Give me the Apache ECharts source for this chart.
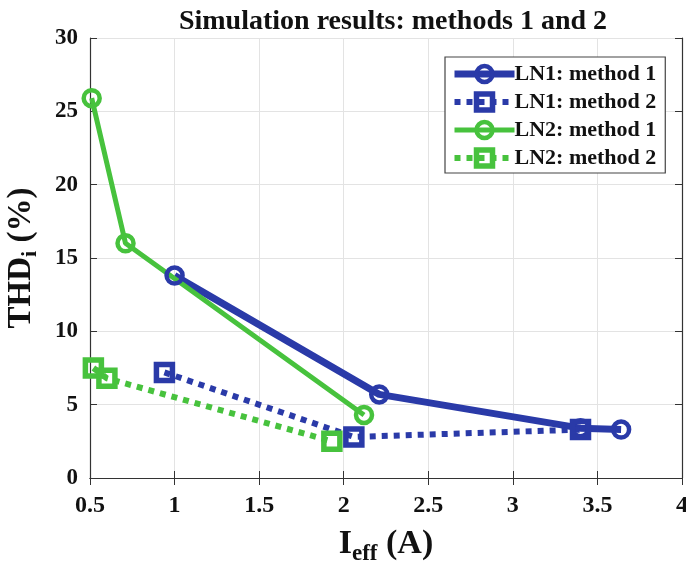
<!DOCTYPE html>
<html>
<head>
<meta charset="utf-8">
<script src="https://cdn.jsdelivr.net/npm/echarts@6/dist/echarts.min.js"></script>
<style>
  html, body { margin: 0; padding: 0; background: #fff; }
  #chart { width: 686px; height: 566px; }
</style>
</head>
<body>
<div id="chart"></div>
<script>
// Effective current (A) and current THD (%) for each line / method
const ln1m1X = [1.00, 2.21, 3.40, 3.64];
const ln1m1Y = [13.8, 5.7, 3.4, 3.3];
const ln1m2X = [0.94, 2.06, 3.40];
const ln1m2Y = [7.2, 2.8, 3.3];
const ln2m1X = [0.51, 0.71, 2.12];
const ln2m1Y = [25.9, 16.0, 4.3];
const ln2m2X = [0.52, 0.60, 1.93];
const ln2m2Y = [7.5, 6.8, 2.5];

const seriesNames = ['LN1: method 1', 'LN1: method 2', 'LN2: method 1', 'LN2: method 2'];
const xTicks = [0.5, 1, 1.5, 2, 2.5, 3, 3.5, 4];
const yTicks = [0, 5, 10, 15, 20, 25, 30];

const BLUE = '#2a3aa8';
const GREEN = '#47c23d';
const FONT = '"Liberation Serif", "DejaVu Serif", serif';

const pairs = (xs, ys) => xs.map((x, i) => [x, ys[i]]);

function makeSeries(name, data, color, dotted, symbol) {
  const solidWidth = color === BLUE ? 7 : 5;
  return {
    name: name,
    type: 'line',
    data: data,
    symbol: symbol,
    symbolSize: 16,
    showAllSymbol: true,
    lineStyle: {
      color: color,
      width: dotted ? 6 : solidWidth,
      type: dotted ? [6, 6] : 'solid',
      cap: 'butt'
    },
    itemStyle: { color: 'rgba(255,255,255,0)', borderColor: color, borderWidth: dotted ? 5.5 : 4.5 },
    emphasis: { disabled: true },
    animation: false
  };
}

const axisLineStyle = { color: '#333', width: 1.2 };
const xAxisBase = {
  type: 'value', min: 0.5, max: 4, interval: 0.5,
  splitLine: { show: true, lineStyle: { color: '#e3e3e3', width: 1 } },
  axisLine: { show: true, lineStyle: axisLineStyle },
  axisTick: { show: true, inside: true, length: 7, lineStyle: { color: '#333' } }
};
const yAxisBase = {
  type: 'value', min: 0, max: 30, interval: 5,
  splitLine: { show: true, lineStyle: { color: '#e3e3e3', width: 1 } },
  axisLine: { show: true, lineStyle: axisLineStyle },
  axisTick: { show: true, inside: true, length: 7, lineStyle: { color: '#333' } }
};

const chart = echarts.init(document.getElementById('chart'), null, { renderer: 'canvas' });
chart.setOption({
  backgroundColor: '#fff',
  animation: false,
  title: {
    text: 'Simulation results: methods 1 and 2',
    left: 388, top: 3, textAlign: 'center',
    textStyle: { fontFamily: FONT, fontWeight: 'bold', fontSize: 28, color: '#111' }
  },
  grid: { left: 90, right: 4, top: 38, bottom: 88, outerBoundsMode: 'none', containLabel: false },
  legend: {
    left: 445, top: 57,
    orient: 'vertical',
    itemWidth: 60, itemHeight: 20, itemGap: 6,
    padding: [6, 9, 4, 6],
    borderColor: '#444', borderWidth: 1.2,
    backgroundColor: '#fff',
    data: seriesNames,
    lineStyle: { width: 'inherit', type: 'inherit' },
    itemStyle: { borderWidth: 'inherit' },
    textStyle: { fontFamily: FONT, fontWeight: 'bold', fontSize: 22, color: '#111', padding: [0, 0, 0, -5] }
  },
  xAxis: [
    Object.assign({}, xAxisBase, {
      position: 'bottom',
      axisLabel: {
        fontFamily: FONT, fontWeight: 'bold', fontSize: 24, color: '#111', margin: 16,
        formatter: v => (xTicks.includes(v) ? String(v) : '')
      },
      name: '{a|I}{b|eff}{a| (A)}',
      nameLocation: 'middle', nameGap: 46,
      nameTextStyle: {
        rich: {
          a: { fontFamily: FONT, fontWeight: 'bold', fontSize: 34, color: '#111', lineHeight: 40 },
          b: { fontFamily: FONT, fontWeight: 'bold', fontSize: 23, color: '#111', lineHeight: 40, padding: [20, 0, 0, 0] }
        }
      }
    }),
    Object.assign({}, xAxisBase, {
      position: 'top', axisLabel: { show: false }, splitLine: { show: false }
    })
  ],
  yAxis: [
    Object.assign({}, yAxisBase, {
      position: 'left',
      axisLabel: {
        fontFamily: FONT, fontWeight: 'bold', fontSize: 23, color: '#111', margin: 12,
        formatter: v => (yTicks.includes(v) ? String(v) : '')
      },
      name: '{a|THD}{b|i}{a| (%)}',
      nameLocation: 'middle', nameGap: 50, nameRotate: 90,
      nameTextStyle: {
        rich: {
          a: { fontFamily: FONT, fontWeight: 'bold', fontSize: 33, color: '#111', lineHeight: 38 },
          b: { fontFamily: FONT, fontWeight: 'bold', fontSize: 22, color: '#111', lineHeight: 38, padding: [18, 0, 0, 0] }
        }
      }
    }),
    Object.assign({}, yAxisBase, {
      position: 'right', axisLabel: { show: false }, splitLine: { show: false }
    })
  ],
  series: [
    makeSeries(seriesNames[0], pairs(ln1m1X, ln1m1Y), BLUE, false, 'circle'),
    makeSeries(seriesNames[1], pairs(ln1m2X, ln1m2Y), BLUE, true, 'rect'),
    makeSeries(seriesNames[2], pairs(ln2m1X, ln2m1Y), GREEN, false, 'circle'),
    makeSeries(seriesNames[3], pairs(ln2m2X, ln2m2Y), GREEN, true, 'rect')
  ]
});
</script>
</body>
</html>
